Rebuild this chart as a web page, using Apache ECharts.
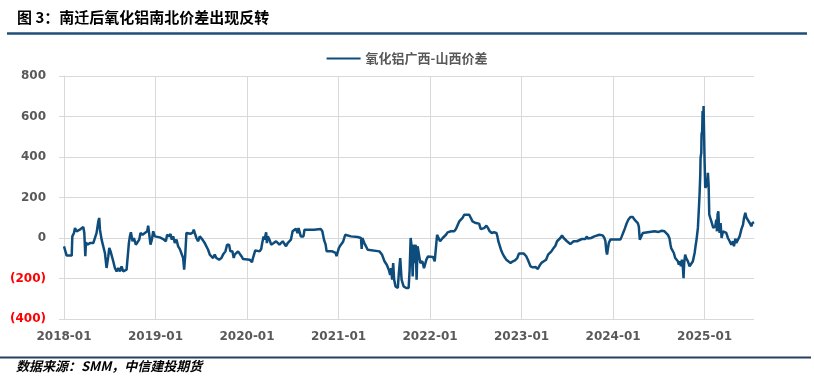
<!DOCTYPE html>
<html><head><meta charset="utf-8">
<script src="https://cdn.jsdelivr.net/npm/echarts@6/dist/echarts.min.js"></script>
<style>html,body{margin:0;padding:0;background:#fff}#c{width:814px;height:389px}</style>
</head><body><div id="c"></div>
<script>
const titleText = '图 3：南迁后氧化铝南北价差出现反转';
const sourceText = '数据来源：SMM，中信建投期货';
const seriesName = '氧化铝广西-山西价差';
const yTicks = [-400, -200, 0, 200, 400, 600, 800];
const xYears = [2018, 2019, 2020, 2021, 2022, 2023, 2024, 2025];
// x positions in decimal years
const t = [
2018.000,2018.010,2018.029,2018.084,2018.091,2018.109,2018.120,2018.138,2018.156,2018.182,2018.211,2018.222,2018.233,2018.240,2018.255,2018.284,2018.320,2018.338,2018.356,2018.375,2018.385,2018.393,2018.411,2018.429,2018.447,2018.465,2018.484,2018.495,2018.509,2018.520,2018.538,2018.556,2018.575,2018.593,2018.611,2018.629,2018.647,2018.665,2018.684,2018.702,2018.709,2018.720,2018.731,2018.749,2018.764,2018.785,2018.800,2018.822,2018.836,2018.858,2018.884,2018.909,2018.920,2018.931,2018.945,2018.960,2018.975,2018.993,
2019.011,2019.047,2019.084,2019.113,2019.127,2019.149,2019.164,2019.178,2019.193,2019.211,2019.229,2019.247,2019.265,2019.284,2019.302,2019.313,2019.324,2019.338,2019.356,2019.382,2019.404,2019.418,2019.429,2019.447,2019.465,2019.484,2019.513,2019.538,2019.556,2019.575,2019.593,2019.611,2019.629,2019.647,2019.665,2019.695,2019.720,2019.738,2019.764,2019.782,2019.804,2019.818,2019.840,2019.855,2019.865,2019.884,2019.902,2019.939,2019.957,
2020.029,2020.054,2020.065,2020.090,2020.137,2020.155,2020.166,2020.181,2020.191,2020.209,2020.217,2020.227,2020.245,2020.264,2020.292,2020.318,2020.354,2020.390,2020.408,2020.426,2020.444,2020.462,2020.480,2020.498,2020.516,2020.534,2020.552,2020.563,2020.588,2020.617,2020.628,2020.733,2020.805,2020.823,2020.841,2020.859,2020.870,2020.931,2020.968,2020.978,
2021.004,2021.026,2021.051,2021.073,2021.088,2021.136,2021.209,2021.245,2021.253,2021.260,2021.282,2021.319,2021.337,2021.447,2021.476,2021.502,2021.527,2021.549,2021.564,2021.575,2021.586,2021.597,2021.608,2021.623,2021.648,2021.659,2021.674,2021.689,2021.711,2021.740,2021.766,2021.777,2021.788,2021.799,2021.810,2021.821,2021.832,2021.843,2021.853,2021.864,2021.879,2021.894,2021.916,2021.934,2021.960,2021.978,2021.996,
2022.033,2022.051,2022.062,2022.077,2022.092,2022.109,2022.120,2022.138,2022.156,2022.174,2022.192,2022.228,2022.264,2022.283,2022.301,2022.319,2022.337,2022.355,2022.373,2022.428,2022.446,2022.464,2022.500,2022.536,2022.554,2022.572,2022.591,2022.616,2022.634,2022.652,2022.674,2022.699,2022.725,2022.736,2022.746,2022.761,2022.775,2022.790,2022.808,2022.833,2022.855,2022.880,2022.906,2022.928,2022.953,2022.971,
2023.025,2023.051,2023.069,2023.098,2023.123,2023.152,2023.178,2023.196,2023.217,2023.243,2023.268,2023.290,2023.304,2023.326,2023.351,2023.370,2023.388,2023.406,2023.424,2023.442,2023.460,2023.478,2023.496,2023.514,2023.533,2023.551,2023.569,2023.587,2023.605,2023.623,2023.659,2023.678,2023.696,2023.714,2023.723,2023.740,2023.759,2023.796,2023.814,2023.850,2023.887,2023.905,2023.916,2023.927,2023.934,2023.942,2023.953,2023.971,
2024.015,2024.080,2024.095,2024.117,2024.131,2024.150,2024.168,2024.190,2024.215,2024.234,2024.252,2024.270,2024.281,2024.292,2024.307,2024.325,2024.343,2024.453,2024.496,2024.533,2024.562,2024.580,2024.599,2024.617,2024.628,2024.635,2024.650,2024.664,2024.679,2024.693,2024.708,2024.719,2024.730,2024.741,2024.752,2024.763,2024.770,2024.777,2024.788,2024.799,2024.818,2024.836,2024.854,2024.872,2024.891,2024.901,2024.912,2024.927,2024.938,2024.945,2024.953,2024.956,2024.964,2024.967,2024.974,2024.978,2024.985,2024.989,2024.996,
2025.000,2025.007,2025.018,2025.029,2025.036,2025.044,2025.051,2025.062,2025.073,2025.084,2025.095,2025.106,2025.117,2025.128,2025.135,2025.142,2025.150,2025.157,2025.164,2025.175,2025.186,2025.201,2025.219,2025.237,2025.255,2025.274,2025.292,2025.310,2025.321,2025.336,2025.347,2025.365,2025.383,2025.401,2025.420,2025.431,2025.445,2025.456,2025.474,2025.493,2025.511,2025.522,2025.540
];
const v = [
-41,-45,-87,-87,8,25,49,33,33,44,54,25,-90,-21,-33,-25,-25,-16,25,82,99,41,-8,-16,-74,-148,-90,-49,-66,-66,-115,-148,-165,-148,-165,-140,-165,-156,-156,-148,-25,8,28,-16,0,-33,-41,-8,25,16,25,33,61,58,-33,-8,33,8,
3,3,-5,-16,16,8,20,-8,8,-25,-8,-41,-54,-49,-99,-156,-90,25,33,21,25,41,25,0,-16,8,-8,-25,-33,-58,-82,-74,-99,-82,-99,-107,-99,-82,-66,-33,-33,-66,-66,-99,-82,-74,-66,-90,-104,
-107,-119,-99,-61,-66,-54,-25,8,-8,28,-25,8,-8,-33,-25,-16,-33,-16,-25,-41,-25,-16,-8,33,41,46,25,49,8,8,41,41,44,33,-8,-33,-66,-66,-74,-90,
-49,-33,-17,16,21,8,5,0,-54,0,-25,-58,-66,-66,-83,-115,-132,-157,-182,-149,-206,-124,-206,-239,-247,-173,-99,-206,-239,-247,-247,-157,0,-41,-190,-33,-124,-33,-206,-41,-83,-124,-115,-149,-107,-91,-91,
-94,-115,-124,16,25,-16,-8,0,8,16,28,33,33,44,49,82,91,99,115,115,99,82,74,71,44,49,49,61,49,33,25,28,25,8,-16,-25,-58,-74,-90,-107,-115,-123,-115,-110,-99,-77,
-77,-90,-107,-140,-145,-143,-153,-137,-123,-115,-107,-82,-90,-66,-49,-38,-16,-8,0,12,0,-8,-16,-21,-30,-38,-16,-8,-16,-8,-5,0,-5,8,-3,3,0,8,16,16,13,0,-16,-66,-82,-58,-25,-8,
-8,-8,8,33,50,74,91,104,104,91,86,74,58,-8,-13,25,33,33,30,36,33,25,16,-3,-33,-50,-46,-74,-99,-107,-115,-132,-115,-140,-107,-148,-198,-124,-82,-99,-115,-140,-140,-115,-74,-41,-8,50,149,215,314,396,421,512,528,627,545,652,652,
380,248,248,264,322,264,116,99,83,83,50,41,58,91,33,116,132,66,25,74,0,33,41,25,0,-16,-33,-16,-41,-3,-25,-16,8,41,66,99,124,102,96,74,58,74,78
];
const data = t.map((x, i) => [x, v[i]]);
const FONT = 'DejaVu Sans, "Noto Sans CJK SC", sans-serif';
const chart = echarts.init(document.getElementById('c'), null, {renderer: 'canvas'});
chart.setOption({
  animation: false,
  backgroundColor: '#ffffff',
  grid: {left: 64, right: 60, top: 76, bottom: 70, containLabel: false},
  legend: {
    top: 47, left: 'center',
    itemWidth: 34, itemHeight: 10, itemGap: 6,
    textStyle: {color: '#595959', fontSize: 13, fontWeight: 'bold', fontFamily: '"Noto Sans CJK SC", sans-serif'},
    data: [{name: seriesName, icon: 'path://M0,4L34,4L34,6L0,6Z'}]
  },
  xAxis: {
    type: 'value', min: xYears[0], max: 2025.54, interval: 1,
    axisLine: {show: true, lineStyle: {color: '#D9D9D9', width: 1}},
    axisTick: {show: true, length: 5, lineStyle: {color: '#D9D9D9'}},
    splitLine: {show: true, showMaxLine: false, lineStyle: {color: '#D9D9D9', width: 1}},
    axisLabel: {
      margin: 12, color: '#595959', fontSize: 12, fontWeight: 'bold', fontFamily: FONT,
      showMaxLabel: false,
      formatter: val => (xYears.includes(Math.round(val * 1000) / 1000) ? val + '-01' : '')
    }
  },
  yAxis: {
    type: 'value', min: yTicks[0], max: yTicks[yTicks.length - 1], interval: 200,
    axisLine: {show: true, lineStyle: {color: '#D9D9D9', width: 1}},
    axisTick: {show: true, length: 5, lineStyle: {color: '#D9D9D9'}},
    splitLine: {show: true, lineStyle: {color: '#D9D9D9', width: 1}},
    axisLabel: {
      margin: 18, fontSize: 12, fontWeight: 'bold', fontFamily: FONT,
      color: val => (val < 0 ? '#FF0000' : '#595959'),
      formatter: val => (val < 0 ? '(' + Math.abs(val) + ')' : String(val))
    }
  },
  series: [{
    name: seriesName, type: 'line', data: data,
    symbol: 'none', showSymbol: false,
    lineStyle: {color: '#0E4C7C', width: 2.5},
    itemStyle: {color: '#0E4C7C'}
  }],
  graphic: [
    {type: 'text', left: 17, top: 10, style: {text: titleText, fill: '#000', font: 'bold 15px "Noto Sans CJK SC", sans-serif'}},
    {type: 'line', shape: {x1: 7, y1: 33.5, x2: 807, y2: 33.5}, style: {stroke: '#1F4E79', lineWidth: 2.5}},
    {type: 'line', shape: {x1: 0, y1: 357.5, x2: 811, y2: 357.5}, style: {stroke: '#243F60', lineWidth: 2}},
    {type: 'text', left: 16, top: 360, style: {text: sourceText, fill: '#000', font: 'italic bold 13px "Noto Sans CJK SC", sans-serif'}}
  ]
});
</script></body></html>
